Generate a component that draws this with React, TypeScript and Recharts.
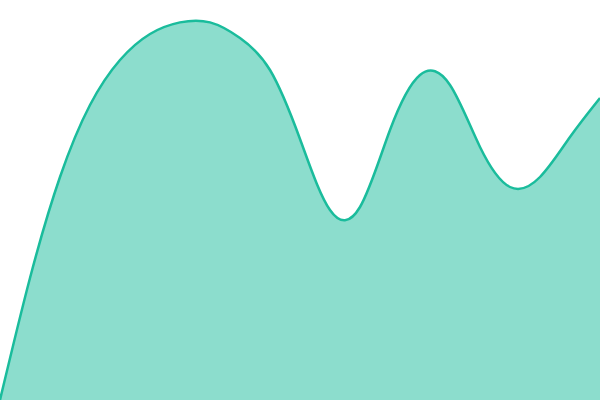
import { AreaChart, Area, XAxis, YAxis } from "recharts";

// evenly spaced samples (every 30px across the plot), values in 0..100
const steps = ["0", "1", "2", "3", "4", "5", "6", "7", "8", "9", "10", "11", "12", "13", "14", "15", "16", "17", "18", "19", "20"];
const values = [
  0, 30.5, 55.75, 73.75, 85, 91.5, 94.4, 94.4, 90.5, 82.5, 65.25, 47.5, 48.25, 67.5, 81.25, 78.75, 63.25, 53.25, 55.75,
  65.75, 75.5,
];

const data = steps.map((s, i) => ({ s, v: values[i] }));

export default function App() {
  return (
    <div style={{ position: "absolute", left: 0, top: 0, width: 600, height: 400 }}>
      <AreaChart width={600} height={400} data={data} margin={{ top: 0, right: 0, bottom: 0, left: 0 }}>
        <XAxis dataKey="s" hide />
        <YAxis domain={[0, 100]} hide />
        <Area
          type="natural"
          dataKey="v"
          stroke="#1abc9c"
          strokeWidth={2.5}
          fill="#1abc9c"
          fillOpacity={0.5}
          dot={false}
          activeDot={false}
          isAnimationActive={false}
        />
      </AreaChart>
    </div>
  );
}
